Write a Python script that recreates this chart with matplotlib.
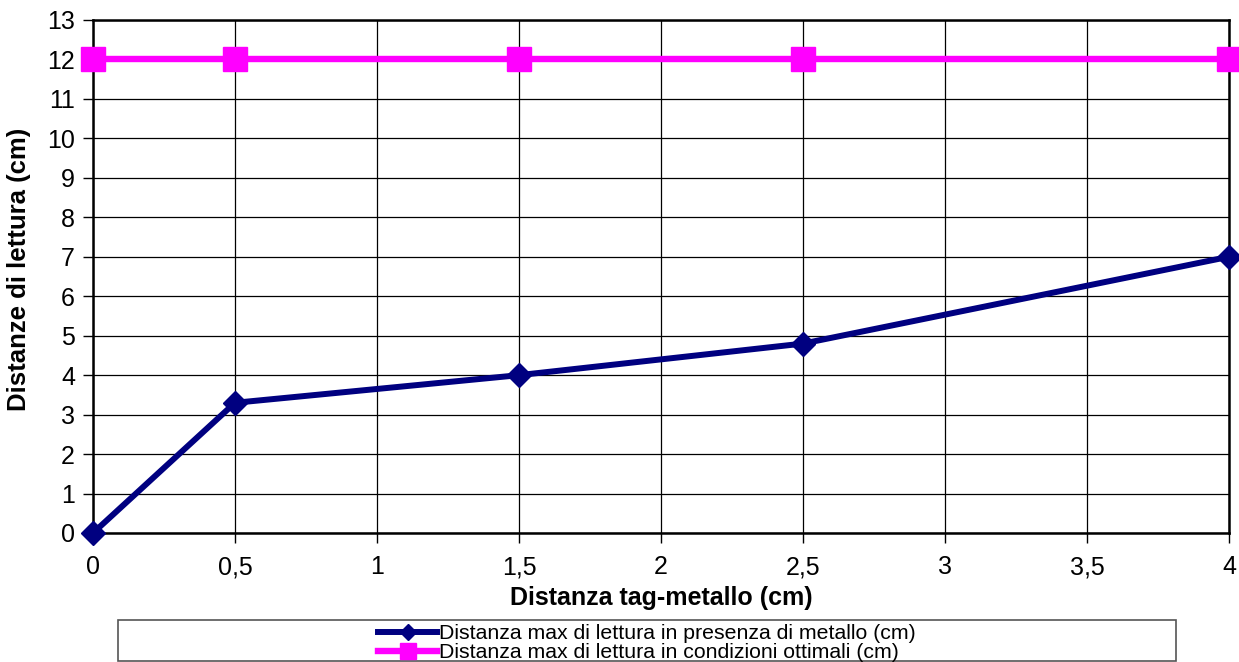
import matplotlib.pyplot as plt
from matplotlib.patches import Rectangle

# data
distTag = [0, 0.5, 1.5, 2.5, 4]
conMetallo = [0, 3.3, 4, 4.8, 7]
ottimali = [12, 12, 12, 12, 12]
xTicks = [0, 0.5, 1, 1.5, 2, 2.5, 3, 3.5, 4]
xTickLabels = ["0", "0,5", "1", "1,5", "2", "2,5", "3", "3,5", "4"]
yTicks = list(range(0, 14))

plt.rcParams['font.family'] = ['Liberation Sans', 'DejaVu Sans']

fig = plt.figure(figsize=(12.39, 6.62), dpi=100)
ax = fig.add_axes([93/1239, 1 - 533/662, (1229 - 93)/1239, (533 - 20)/662])

l1, = ax.plot(distTag, conMetallo, color="#000080", lw=4.3, marker="D", ms=12.5,
              label="Distanza max di lettura in presenza di metallo (cm)", clip_on=False, zorder=4)
l2, = ax.plot(distTag, ottimali, color="#FF00FF", lw=4.6, marker="s", ms=17,
              label="Distanza max di lettura in condizioni ottimali (cm)", clip_on=False, zorder=4)

ax.set_xlim(0, 4)
ax.set_ylim(0, 13)
ax.set_xticks(xTicks)
ax.set_xticklabels(xTickLabels)
ax.set_yticks(yTicks)
ax.grid(True, color="black", lw=0.9)
ax.set_axisbelow(True)
for s in ax.spines.values():
    s.set_linewidth(1.8)
ax.tick_params(direction="out", length=7, width=1, labelsize=18, pad=6)
ax.tick_params(axis="x", pad=9)

ax.set_xlabel("Distanza tag-metallo (cm)", fontsize=18, fontweight="bold", labelpad=5)
ax.set_ylabel("Distanze di lettura (cm)", fontsize=18.5, fontweight="bold")
ax.yaxis.set_label_coords(-0.055, 0.513)

# legend box below the plot
box = Rectangle((118/1239, 1/662), (1176 - 118)/1239, 41/662, transform=fig.transFigure,
                facecolor="white", edgecolor="#555555", lw=1.2)
fig.patches.append(box)
fig.legend(handles=[l1, l2], loc="center", bbox_to_anchor=(647/1239, 1 - 643/662),
           frameon=False, fontsize=15.3, labelspacing=0.0, handlelength=2.75,
           handletextpad=0.1, borderpad=0, markerscale=0.65)

plt.savefig("out.png", dpi=100)
